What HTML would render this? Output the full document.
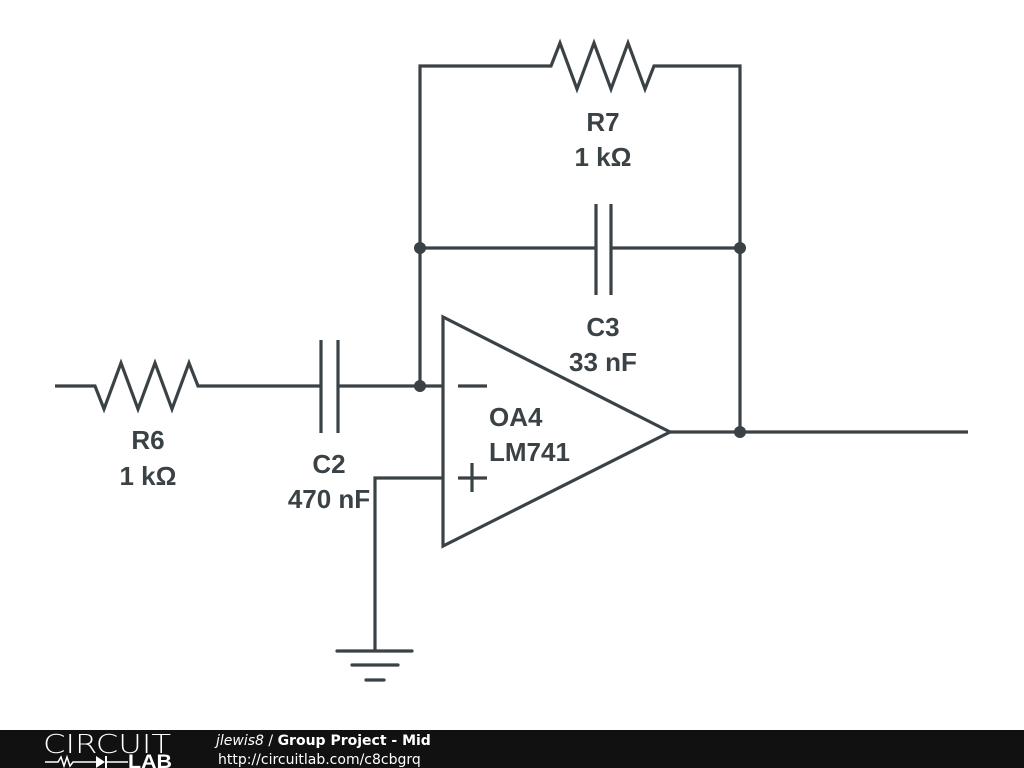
<!DOCTYPE html>
<html><head><meta charset="utf-8"><style>
html,body{margin:0;padding:0;background:#fff;width:1024px;height:768px;overflow:hidden}
svg{display:block}
text{font-family:"Liberation Sans",sans-serif}
text.dv{font-family:"DejaVu Sans",sans-serif}
</style></head><body>
<svg width="1024" height="768" viewBox="0 0 1024 768" xmlns="http://www.w3.org/2000/svg">
<g stroke="#3b4246" stroke-width="3.2" fill="none" stroke-linejoin="miter">
<polyline points="55,386 95,386 104,409 121,363 138,409 155,363 172,409 189,363 198,386 321,386"/>
<line x1="321" y1="340" x2="321" y2="433"/>
<line x1="338" y1="340" x2="338" y2="433"/>
<line x1="338" y1="386" x2="443" y2="386"/>
<polyline points="420,386 420,66 551,66 560,43 577,89 594,43 611,89 628,43 645,89 654,66 740,66 740,432"/>
<line x1="420" y1="248" x2="596" y2="248"/>
<line x1="596" y1="204" x2="596" y2="295"/>
<line x1="611" y1="204" x2="611" y2="295"/>
<line x1="611" y1="248" x2="740" y2="248"/>
<polygon points="443,317 443,546 670,432"/>
<line x1="670" y1="432" x2="968" y2="432"/>
<line x1="458" y1="386" x2="487" y2="386"/>
<line x1="458" y1="478" x2="487" y2="478"/>
<line x1="472" y1="463" x2="472" y2="492"/>
<polyline points="443,478 375,478 375,651"/>
<line x1="337" y1="651" x2="412" y2="651" stroke-linecap="round"/>
<line x1="352" y1="665" x2="398" y2="665" stroke-linecap="round"/>
<line x1="366" y1="680" x2="384" y2="680" stroke-linecap="round"/>
</g>
<g fill="#3b4246">
<circle cx="420" cy="248" r="6"/><circle cx="740" cy="248" r="6"/>
<circle cx="420" cy="386" r="6"/><circle cx="740" cy="432" r="6"/>
</g>
<g fill="#3b4246" font-size="26" font-weight="bold" text-anchor="middle">
<text x="603" y="131">R7</text><text x="603" y="166">1 kΩ</text>
<text x="603" y="336">C3</text><text x="603" y="371">33 nF</text>
<text x="148" y="449">R6</text><text x="148" y="485">1 kΩ</text>
<text x="329" y="473">C2</text><text x="329" y="508">470 nF</text>
<text x="489" y="426" text-anchor="start">OA4</text>
<text x="489" y="461" text-anchor="start">LM741</text>
</g>
<rect x="0" y="730" width="1024" height="38" fill="#111"/>
<text class="dv" x="43" y="753" fill="#fff" font-size="26" textLength="128" lengthAdjust="spacingAndGlyphs" style="font-weight:200">CIRCUIT</text>
<polyline points="45,762 58,762 61,757 64,766 67,757 70,766 73,762 96,762" stroke="#fff" stroke-width="1.5" fill="none"/>
<polygon points="96,756 96,768 105,762" fill="#fff"/>
<line x1="106" y1="756" x2="106" y2="768" stroke="#fff" stroke-width="2"/>
<line x1="106" y1="762" x2="128" y2="762" stroke="#fff" stroke-width="1.5"/>
<text x="128" y="768" fill="#fff" font-size="19" font-weight="bold" textLength="44" lengthAdjust="spacingAndGlyphs">LAB</text>
<text class="dv" x="216" y="745" fill="#fff" font-size="14"><tspan font-style="italic">jlewis8</tspan> / <tspan font-weight="bold">Group Project - Mid</tspan></text>
<text class="dv" x="218" y="764" fill="#fff" font-size="14">http://circuitlab.com/c8cbgrq</text>
</svg>
</body></html>
